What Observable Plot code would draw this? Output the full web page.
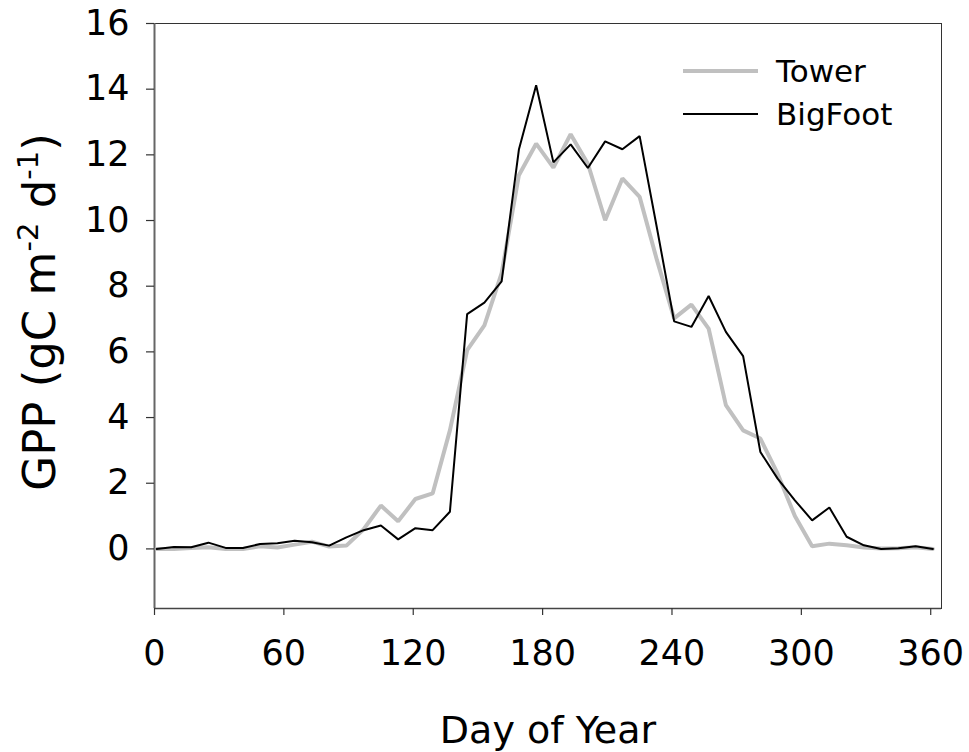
<!DOCTYPE html>
<html>
<head>
<meta charset="utf-8">
<script src="https://cdn.jsdelivr.net/npm/d3@7"></script>
<script src="https://cdn.jsdelivr.net/npm/@observablehq/plot@0.6"></script>
<style>
  html, body { margin: 0; padding: 0; background: #fff; }
  #chart svg { display: block; }
</style>
</head>
<body>
<div id="chart"></div>
<script>
// Day of year (8-day composites)
const days = [1, 9, 17, 25, 33, 41, 49, 57, 65, 73,
  81, 89, 97, 105, 113, 121, 129, 137, 145, 153,
  161, 169, 177, 185, 193, 201, 209, 217, 225, 233,
  241, 249, 257, 265, 273, 281, 289, 297, 305, 313,
  321, 329, 337, 345, 353, 361];

// GPP (gC m-2 d-1)
const tower = [0.0, 0.0, 0.03, 0.05, 0.0, 0.0, 0.08, 0.04, 0.13, 0.22,
  0.07, 0.1, 0.6, 1.32, 0.84, 1.52, 1.69, 3.61, 6.05, 6.81,
  8.4, 11.38, 12.34, 11.61, 12.63, 11.73, 10.01, 11.28, 10.72, 8.8,
  7.02, 7.44, 6.71, 4.38, 3.61, 3.36, 2.29, 1.0, 0.08, 0.16,
  0.11, 0.04, 0.01, 0.02, 0.05, 0.0];

const bigfoot = [0.0, 0.06, 0.05, 0.19, 0.03, 0.03, 0.15, 0.17, 0.25, 0.2,
  0.1, 0.35, 0.57, 0.71, 0.29, 0.63, 0.57, 1.13, 7.15, 7.5,
  8.15, 12.16, 14.12, 11.77, 12.32, 11.6, 12.41, 12.17, 12.57, 9.78,
  6.93, 6.76, 7.7, 6.61, 5.87, 2.95, 2.14, 1.48, 0.87, 1.26,
  0.37, 0.11, 0.0, 0.02, 0.08, 0.0];

const seriesNames = ["Tower", "BigFoot"];
const xTicks = [0, 60, 120, 180, 240, 300, 360];
const yTicks = [0, 2, 4, 6, 8, 10, 12, 14, 16];
const xTitle = "Day of Year";

const towerData = days.map((d, i) => ({day: d, gpp: tower[i]}));
const bigfootData = days.map((d, i) => ({day: d, gpp: bigfoot[i]}));

const W = 969, H = 752;
const font = "'DejaVu Sans', Verdana, sans-serif";
const chart = Plot.plot({
  width: W,
  height: H,
  marginLeft: 154,
  marginRight: 28,
  marginTop: 23,
  marginBottom: 144,
  style: {fontFamily: font, fontSize: "35px", color: "#000", background: "#fff"},
  x: {domain: [0, 365]},
  y: {domain: [-1.815, 16]},
  marks: [
    Plot.frame({stroke: "#333", strokeWidth: 1}),
    Plot.ruleX([0], {stroke: "#666", strokeWidth: 2}),
    Plot.ruleY([-1.815], {stroke: "#444", strokeWidth: 1.5}),
    Plot.axisX({ticks: xTicks, tickSize: 7, tickPadding: 25, label: null, stroke: "#333", strokeWidth: 1.2, fontSize: 35}),
    Plot.axisY({ticks: yTicks, tickSize: 8, tickPadding: 17, label: null, stroke: "#333", strokeWidth: 1.2, fontSize: 35}),
    Plot.line(towerData, {x: "day", y: "gpp", stroke: "#c0c0c0", strokeWidth: 4, strokeLinejoin: "miter"}),
    Plot.line(bigfootData, {x: "day", y: "gpp", stroke: "#000", strokeWidth: 2, strokeLinejoin: "miter"})
  ]
});
document.getElementById("chart").appendChild(chart);

const svg = d3.select(chart);

// x title
svg.append("text")
  .attr("x", 548).attr("y", 743)
  .attr("text-anchor", "middle")
  .attr("font-family", font).attr("font-size", 38)
  .attr("fill", "#000")
  .text(xTitle);

// y title with superscripts
const yt = svg.append("text")
  .attr("transform", "translate(55,312) rotate(-90)")
  .attr("text-anchor", "middle")
  .attr("font-family", font).attr("font-size", 45)
  .attr("fill", "#000");
yt.append("tspan").text("GPP (gC m");
yt.append("tspan").attr("dy", -17).attr("font-size", 29).text("-2");
yt.append("tspan").attr("dy", 17).text(" d");
yt.append("tspan").attr("dy", -17).attr("font-size", 29).text("-1");
yt.append("tspan").attr("dy", 17).text(")");

// legend
const legend = [
  {name: seriesNames[0], stroke: "#c0c0c0", width: 4, y: 71},
  {name: seriesNames[1], stroke: "#000", width: 2, y: 114}
];
legend.forEach(l => {
  svg.append("line")
    .attr("x1", 683).attr("x2", 758).attr("y1", l.y).attr("y2", l.y)
    .attr("stroke", l.stroke).attr("stroke-width", l.width);
  svg.append("text")
    .attr("x", 776).attr("y", l.y + 11)
    .attr("text-anchor", "start")
    .attr("font-family", font).attr("font-size", 31)
    .attr("fill", "#000")
    .text(l.name);
});
</script>
</body>
</html>
